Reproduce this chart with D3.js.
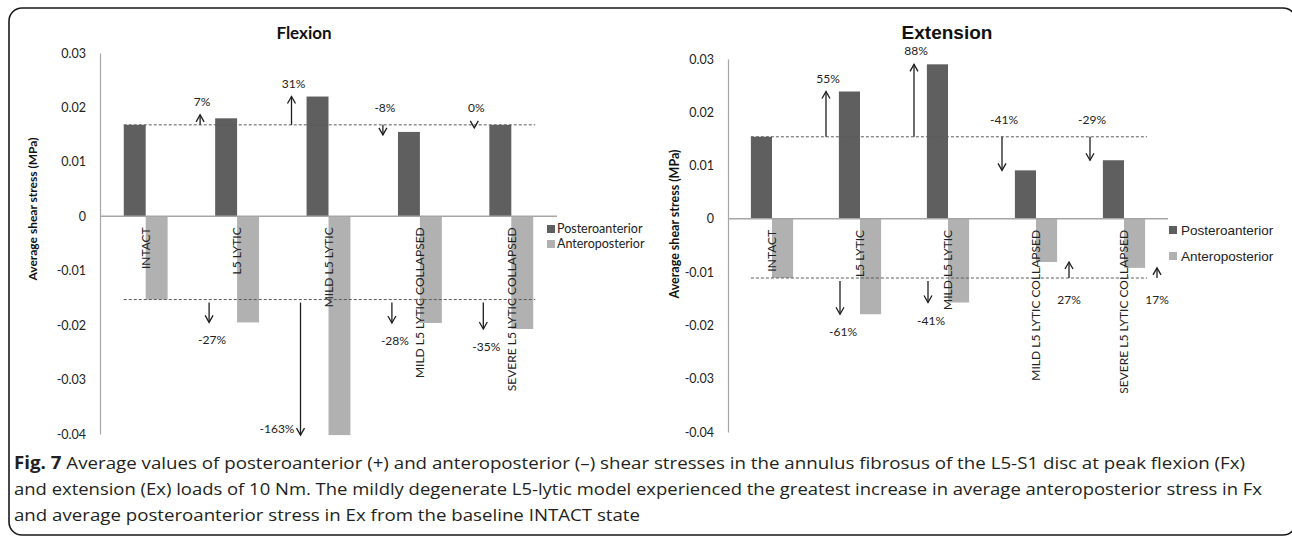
<!DOCTYPE html>
<html>
<head>
<meta charset="utf-8">
<script src="https://cdn.jsdelivr.net/npm/d3@7"></script>
<style>
  body { margin: 0; background: #fff; }
  svg { display: block; }
</style>
</head>
<body>
<svg id="fig" width="1292" height="538"></svg>
<script>
// Shear stress in the L5-S1 annulus fibrosus (MPa), per model
const categories = ["INTACT", "L5 LYTIC", "MILD L5 LYTIC", "MILD L5 LYTIC COLLAPSED", "SEVERE L5 LYTIC COLLAPSED"];
const seriesNames = ["Posteroanterior", "Anteroposterior"];

const flexionPA = [0.0168, 0.0180, 0.0220, 0.0155, 0.0168];
const flexionAP = [-0.0153, -0.0195, -0.0402, -0.0196, -0.0207];
const flexionPAChange = ["", "7%", "31%", "-8%", "0%"];
const flexionAPChange = ["", "-27%", "-163%", "-28%", "-35%"];

const extensionPA = [0.0154, 0.0239, 0.0290, 0.0091, 0.0110];
const extensionAP = [-0.0111, -0.0179, -0.0157, -0.0081, -0.0092];
const extensionPAChange = ["", "55%", "88%", "-41%", "-29%"];
const extensionAPChange = ["", "-61%", "-41%", "27%", "17%"];

const yTicks = [0.03, 0.02, 0.01, 0, -0.01, -0.02, -0.03, -0.04];

const captionLead = "Fig. 7";
const captionLines = [
  " Average values of posteroanterior (+) and anteroposterior (\u2013) shear stresses in the annulus fibrosus of the L5-S1 disc at peak flexion (Fx)",
  "and extension (Ex) loads of 10 Nm. The mildly degenerate L5-lytic model experienced the greatest increase in average anteroposterior stress in Fx",
  "and average posteroanterior stress in Ex from the baseline INTACT state"
];

const DARK = "#5f5f5f", LIGHT = "#b1b1b1", AXIS = "#a6a6a6", INK = "#1e1e1e";
const svg = d3.select("#fig");

// frame around the whole figure
svg.append("rect")
  .attr("x", 9).attr("y", 8).attr("width", 1287).attr("height", 527).attr("rx", 13)
  .attr("fill", "none").attr("stroke", "#1a1a1a").attr("stroke-width", 1.6);

// vertical arrow from y0 towards y1 with an open head
function arrow(g, xPos, y0, y1) {
  const dir = y1 < y0 ? -1 : 1;          // -1 = pointing up
  const len = Math.abs(y1 - y0);
  if (len < 4) y1 = y0 + 3 * dir;
  else if (len < 10) y1 = y0 + 10 * dir;
  if (Math.abs(y1 - y0) > 7) {
    g.append("line").attr("x1", xPos).attr("x2", xPos).attr("y1", y0).attr("y2", y1)
      .attr("stroke", INK).attr("stroke-width", 1.3);
  }
  g.append("polyline")
    .attr("points", `${xPos - 4},${y1 - 7 * dir} ${xPos},${y1} ${xPos + 4},${y1 - 7 * dir}`)
    .attr("fill", "none").attr("stroke", INK).attr("stroke-width", 1.3);
  return y1;
}

function drawPanel(p) {
  const g = svg.append("g");
  const x = d3.scaleBand().domain(categories).range([p.x0, p.x1]);
  const y = d3.scaleLinear().domain([-0.04, 0.03]).range([p.yBot, p.yTop]);
  const bw = x.bandwidth() * 0.24;
  const cx = c => x(c) + x.bandwidth() / 2;

  // title
  g.append("text").attr("x", p.titleX).attr("y", p.titleY).attr("text-anchor", "middle")
    .attr("font-family", p.titleFont).attr("font-weight", "bold").attr("font-size", p.titleSize)
    .attr("fill", "#111").text(p.title);

  // y axis
  const ax = g.append("g").attr("transform", `translate(${p.x0},0)`)
    .call(d3.axisLeft(y).tickValues(yTicks).tickSize(0).tickSizeOuter(0).tickPadding(14)
      .tickFormat(d => d === 0 ? "0" : d.toFixed(2)));
  ax.select(".domain").attr("stroke", AXIS).attr("stroke-width", 1.2);
  ax.selectAll(".tick text").attr("font-family", "Lato").attr("font-size", 12.5).attr("fill", "#222");

  g.append("text")
    .attr("transform", `translate(${p.yTitleX},${p.yTitleY}) rotate(-90)`)
    .attr("text-anchor", "middle").attr("dy", "0.35em")
    .attr("font-family", "Lato").attr("font-weight", "bold").attr("font-size", p.yTitleSize)
    .attr("fill", "#111").text("Average shear stress (MPa)");

  // bars
  const series = [p.pa, p.ap];
  series.forEach((vals, s) => {
    g.append("g").selectAll("rect").data(vals).join("rect")
      .attr("x", (d, i) => cx(categories[i]) - bw + s * bw)
      .attr("width", bw)
      .attr("y", d => Math.min(y(d), y(0)))
      .attr("height", d => Math.abs(y(d) - y(0)))
      .attr("fill", s === 0 ? DARK : LIGHT);
  });

  // zero line
  g.append("line").attr("x1", p.x0).attr("x2", p.x1).attr("y1", y(0)).attr("y2", y(0))
    .attr("stroke", AXIS).attr("stroke-width", 1.5);

  // category labels
  g.append("g").selectAll("text").data(categories).join("text")
    .attr("transform", c => `translate(${cx(c)},${y(0) + 11}) rotate(-90)`)
    .attr("text-anchor", "end").attr("dy", "0.36em")
    .attr("font-family", "Lato").attr("font-size", 12).attr("fill", "#222")
    .text(c => c);

  // INTACT reference lines
  const lx0 = cx(categories[0]) - bw, lx1 = cx(categories[categories.length - 1]) + bw + 2;
  [p.pa[0], p.ap[0]].forEach(v => {
    g.append("line").attr("x1", lx0).attr("x2", lx1).attr("y1", y(v)).attr("y2", y(v))
      .attr("stroke", "#5a5a5a").attr("stroke-width", 1).attr("stroke-dasharray", "3,2");
  });

  const labelStyle = t => t.attr("font-family", "Lato").attr("font-size", 12).attr("fill", "#222");

  // change arrows, posteroanterior
  const basePA = y(p.pa[0]);
  p.pa.forEach((v, i) => {
    if (i === 0) return;
    const ax = cx(categories[i]) + p.paOffset;
    const tip = arrow(g, ax, basePA, y(v));
    const up = tip < basePA;
    const top = Math.min(tip, basePA);
    labelStyle(g.append("text")).attr("x", ax + 2).attr("y", top - (up ? 9 : 13))
      .attr("text-anchor", "middle").text(p.paChange[i]);
  });

  // change arrows, anteroposterior
  const baseAP = y(p.ap[0]);
  p.ap.forEach((v, i) => {
    if (i === 0) return;
    const shrink = Math.abs(v) < Math.abs(p.ap[0]);
    const ax = cx(categories[i]) + (shrink ? p.apOffsetUp : p.apOffsetDown);
    const tip = arrow(g, ax, baseAP + (shrink ? 0 : 3), y(v));
    const bottom = Math.max(tip, baseAP);
    if (bottom + 22 > p.yBot) {
      labelStyle(g.append("text")).attr("x", ax - 6).attr("y", tip - 2)
        .attr("text-anchor", "end").text(p.apChange[i]);
    } else {
      labelStyle(g.append("text")).attr("x", ax + (shrink ? 0 : 3)).attr("y", bottom + (shrink ? 26 : 22))
        .attr("text-anchor", "middle").text(p.apChange[i]);
    }
  });

  // legend
  seriesNames.forEach((name, s) => {
    const ly = p.legendY[s];
    g.append("rect").attr("x", p.legendX).attr("y", ly - 4).attr("width", 8).attr("height", 8)
      .attr("fill", s === 0 ? DARK : LIGHT);
    g.append("text").attr("x", p.legendX + p.legendGap).attr("y", ly).attr("dy", "0.35em")
      .attr("font-family", p.legendFont).attr("font-size", p.legendSize).attr("fill", "#222")
      .text(name);
  });
}

drawPanel({
  title: "Flexion", titleX: 304, titleY: 39, titleFont: "Lato", titleSize: 17,
  x0: 100, x1: 557, yTop: 53, yBot: 434,
  yTitleX: 33, yTitleY: 209, yTitleSize: 12,
  pa: flexionPA, ap: flexionAP, paChange: flexionPAChange, apChange: flexionAPChange,
  paOffset: -37, apOffsetDown: -28, apOffsetUp: 32,
  legendX: 547, legendY: [229, 244], legendGap: 10, legendFont: "Lato", legendSize: 12.5
});

drawPanel({
  title: "Extension", titleX: 947, titleY: 39, titleFont: "Liberation Sans", titleSize: 19,
  x0: 728, x1: 1168, yTop: 59, yBot: 432,
  yTitleX: 675, yTitleY: 224, yTitleSize: 12.5,
  pa: extensionPA, ap: extensionAP, paChange: extensionPAChange, apChange: extensionAPChange,
  paOffset: -34, apOffsetDown: -20, apOffsetUp: 33,
  legendX: 1169, legendY: [230, 256], legendGap: 12, legendFont: "Liberation Sans", legendSize: 13.5
});

// caption
const cap = svg.append("g").attr("font-family", "Open Sans").attr("font-size", 17).attr("fill", "#231f20");
const capEnds = [1245, 1262, 640];
captionLines.forEach((line, i) => {
  const t = cap.append("text").attr("x", 14).attr("y", 469 + i * 26)
    .attr("textLength", capEnds[i] - 14).attr("lengthAdjust", "spacingAndGlyphs");
  if (i === 0) t.append("tspan").attr("font-weight", "bold").text(captionLead);
  t.append("tspan").text(line);
});
</script>
</body>
</html>
